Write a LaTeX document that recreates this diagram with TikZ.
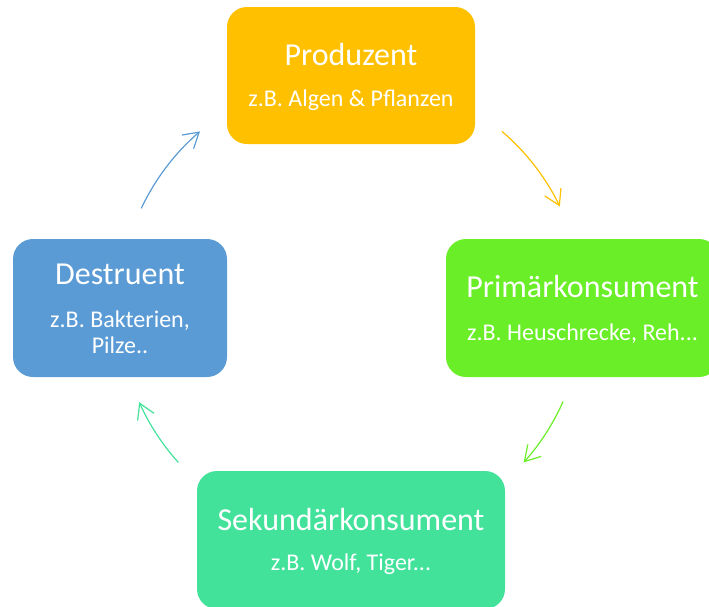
\documentclass[tikz,border=0pt]{standalone}
\usepackage{fontspec}
\setmainfont{Carlito}
\usetikzlibrary{arrows.meta}
\definecolor{prodcol}{HTML}{FFC000}
\definecolor{primcol}{HTML}{6AEE28}
\definecolor{sekcol}{HTML}{42E29B}
\definecolor{destcol}{HTML}{5B9BD5}
\tikzset{
  box/.style={rectangle, rounded corners=20pt, draw=none, inner sep=0pt},
  head/.style={anchor=base, inner sep=0pt, text=white, font=\fontsize{32}{37}\selectfont},
  sub/.style={anchor=base, inner sep=0pt, text=white, font=\fontsize{24}{28}\selectfont},
  flow/.style={line width=1.2pt, -{Straight Barb[length=15pt, width=18pt]}}
}
\begin{document}
\begin{tikzpicture}[x=1pt, y=1pt]
\useasboundingbox (0,0) rectangle (709,-606);
\begin{scope}
\clip (0,0) rectangle (709,-606);
% the four stages
\node[box, fill=prodcol, minimum width=248pt, minimum height=137pt] (prod) at (351,-75.5) {};
\node[box, fill=primcol, minimum width=273pt, minimum height=138pt] (prim) at (582.5,-308) {};
\node[box, fill=sekcol, minimum width=308pt, minimum height=138pt] (sek) at (351,-540) {};
\node[box, fill=destcol, minimum width=214pt, minimum height=138pt] (dest) at (120,-308) {};
\end{scope}
% texts
\node[head] (prodH) at ([yshift=10.5pt]prod.center) {Produzent};
\node[sub] (prodS) at ([yshift=-30.5pt]prod.center) {z.B. Algen \& Pflanzen};
\node[head] (primH) at ([yshift=11pt]prim.center) {Primärkonsument};
\node[sub] (primS) at ([yshift=-32pt]prim.center) {z.B. Heuschrecke, Reh...};
\node[head] (sekH) at ([yshift=10pt]sek.center) {Sekundärkonsument};
\node[sub] (sekS) at ([yshift=-30pt]sek.center) {z.B. Wolf, Tiger...};
\node[head] (destH) at ([yshift=24pt]dest.center) {Destruent};
\node[sub] (destS) at ([yshift=-19pt]dest.center) {z.B. Bakterien,};
\node[sub] (destT) at ([yshift=-45pt]dest.center) {Pilze..};
% cycle arrows
\coordinate (hub) at (351,-307.5);
\draw[flow, prodcol] (hub) ++(49.4:232) arc[start angle=49.4, end angle=25.8, radius=232];
\draw[flow, primcol] (hub) ++(-23.9:232) arc[start angle=-23.9, end angle=-41.9, radius=232];
\draw[flow, sekcol] (hub) ++(-138.1:232) arc[start angle=-138.1, end angle=-155.9, radius=232];
\draw[flow, destcol] (hub) ++(154.7:232) arc[start angle=154.7, end angle=130.6, radius=232];
\end{tikzpicture}
\end{document}
